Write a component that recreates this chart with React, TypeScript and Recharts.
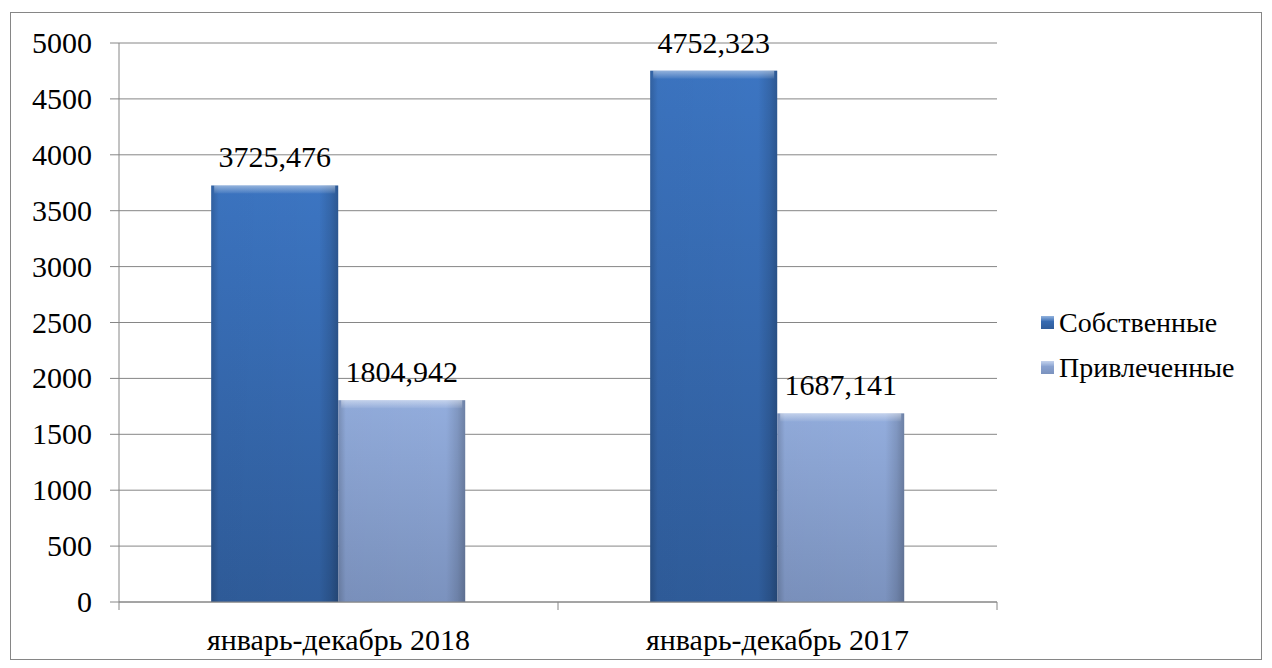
import { Bar, BarChart, CartesianGrid, LabelList, Legend, XAxis, YAxis } from "recharts";

const categories = ["январь-декабрь 2018", "январь-декабрь 2017"];
const own = [3725.476, 4752.323];
const borrowed = [1804.942, 1687.141];
const yTicks = [0, 500, 1000, 1500, 2000, 2500, 3000, 3500, 4000, 4500, 5000];

const seriesNames = { own: "Собственные", borrowed: "Привлеченные" };

const rows = categories.map((c, i) => ({ name: c, own: own[i], borrowed: borrowed[i] }));

const W = 1250;
const H = 646;
const margin = { top: 30, right: 264, bottom: 0, left: 0 };
const yAxisWidth = 108;
const font = "Liberation Serif, Times New Roman, DejaVu Serif, serif";
const axisGray = "#868686";
const fs = 30;

const fmt = (v: any) => String(v).replace(".", ",");

const plotLeft = margin.left + yAxisWidth;
const plotRight = W - margin.right;
const halfBand = (plotRight - plotLeft) / categories.length / 2;

function XTick(props: any) {
  const { x, y, payload, index } = props;
  const left = x - halfBand;
  const right = x + halfBand;
  return (
    <g>
      <line x1={left} y1={y - 8} x2={left} y2={y} stroke={axisGray} />
      {index === categories.length - 1 && (
        <line x1={right} y1={y - 8} x2={right} y2={y} stroke={axisGray} />
      )}
      <text x={x} y={y + 40} textAnchor="middle" fill="#000" style={{ fontSize: fs, fontFamily: font }}>
        {payload.value}
      </text>
    </g>
  );
}

function YTick(props: any) {
  const { x, y, payload } = props;
  return (
    <text x={x} y={y + 10} textAnchor="end" fill="#000" style={{ fontSize: fs, fontFamily: font }}>
      {payload.value}
    </text>
  );
}

function BevelBar(props: any) {
  const { x, y, width, height, fillId } = props;
  if (!height || height <= 0) return null;
  return (
    <g>
      <rect x={x} y={y} width={width} height={height} fill={`url(#${fillId}V)`} />
      <rect x={x} y={y} width={width} height={height} fill="url(#edgeH)" />
      <rect x={x + 3} y={y} width={width - 6} height={8} fill="url(#topBevel)" />
    </g>
  );
}

function LegendBox() {
  const items = [
    { name: seriesNames.own, id: "ownV" },
    { name: seriesNames.borrowed, id: "borV" },
  ];
  return (
    <div style={{ fontFamily: font, fontSize: 28, color: "#000", lineHeight: 1 }}>
      {items.map((it) => (
        <div key={it.name} style={{ display: "flex", alignItems: "center", height: 45 }}>
          <svg width={14} height={13} style={{ marginRight: 4 }}>
            <rect x={0} y={0} width={13} height={13} fill={`url(#${it.id})`} />
            <rect x={0} y={0} width={13} height={5} fill="url(#topBevel)" />
          </svg>
          <span>{it.name}</span>
        </div>
      ))}
    </div>
  );
}

export default function App() {
  return (
    <div
      style={{
        position: "absolute",
        left: 10,
        top: 12,
        width: W,
        height: H,
        border: `1px solid ${axisGray}`,
        background: "#fff",
      }}
    >
      <BarChart
        width={W}
        height={H}
        data={rows}
        margin={margin}
        barCategoryGap="21%"
        barGap={0}
      >
        <defs>
          <linearGradient id="ownV" x1="0" y1="0" x2="0" y2="1">
            <stop offset="0%" stopColor="#3c75c2" />
            <stop offset="100%" stopColor="#2f5c9a" />
          </linearGradient>
          <linearGradient id="borV" x1="0" y1="0" x2="0" y2="1">
            <stop offset="0%" stopColor="#93addd" />
            <stop offset="100%" stopColor="#7b92be" />
          </linearGradient>
          <linearGradient id="edgeH" x1="0" y1="0" x2="1" y2="0">
            <stop offset="0%" stopColor="#000" stopOpacity={0.18} />
            <stop offset="6%" stopColor="#000" stopOpacity={0.02} />
            <stop offset="85%" stopColor="#000" stopOpacity={0} />
            <stop offset="94%" stopColor="#000" stopOpacity={0.12} />
            <stop offset="100%" stopColor="#000" stopOpacity={0.25} />
          </linearGradient>
          <linearGradient id="topBevel" x1="0" y1="0" x2="0" y2="1">
            <stop offset="0%" stopColor="#fff" stopOpacity={0.45} />
            <stop offset="100%" stopColor="#fff" stopOpacity={0.05} />
          </linearGradient>
        </defs>
        <CartesianGrid vertical={false} stroke={axisGray} strokeWidth={1} />
        <XAxis
          dataKey="name"
          height={57}
          axisLine={{ stroke: axisGray }}
          tickLine={false}
          tick={<XTick />}
          interval={0}
        />
        <YAxis
          width={yAxisWidth}
          domain={[0, 5000]}
          ticks={yTicks}
          interval={0}
          axisLine={{ stroke: axisGray }}
          tickLine={{ stroke: axisGray }}
          tickSize={9}
          tickMargin={18}
          tick={<YTick />}
        />
        <Legend
          layout="vertical"
          align="center"
          verticalAlign="middle"
          wrapperStyle={{ left: 1030, top: 287, width: 220 }}
          content={() => <LegendBox />}
        />
        <Bar
          dataKey="own"
          name={seriesNames.own}
          fill="#3a6fb8"
          shape={(p: any) => <BevelBar {...p} fillId="own" />}
          isAnimationActive={false}
        >
          <LabelList
            dataKey="own"
            position="top"
            offset={18}
            formatter={fmt}
            style={{ fontSize: fs, fontFamily: font, fill: "#000" }}
          />
        </Bar>
        <Bar
          dataKey="borrowed"
          name={seriesNames.borrowed}
          fill="#8aa4d4"
          shape={(p: any) => <BevelBar {...p} fillId="bor" />}
          isAnimationActive={false}
        >
          <LabelList
            dataKey="borrowed"
            position="top"
            offset={18}
            formatter={fmt}
            style={{ fontSize: fs, fontFamily: font, fill: "#000" }}
          />
        </Bar>
      </BarChart>
    </div>
  );
}
